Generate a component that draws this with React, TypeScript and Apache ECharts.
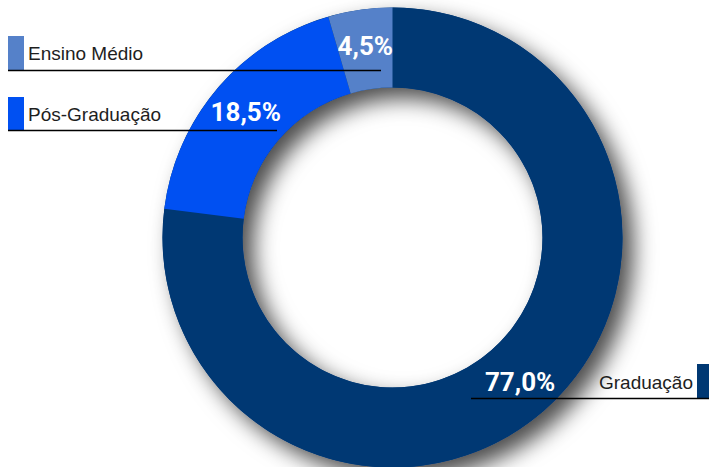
import React, { useEffect, useRef } from "react";
import * as echarts from "echarts";

const categories = ["Graduação", "Pós-Graduação", "Ensino Médio"];
const values = [77.0, 18.5, 4.5];
const colors = ["#003873", "#0050f2", "#5581c9"];

const fmt = (v: number) => v.toFixed(1).replace(".", ",") + "%";

export default function App() {
  const ref = useRef<HTMLDivElement>(null);
  useEffect(() => {
    const chart = echarts.init(ref.current!, null, { renderer: "svg" });
    const center = [392.5, 237.5];
    const radius = [150, 230];
    const legendFont = {
      fontFamily: "Liberation Sans, Arial, sans-serif",
      fontSize: 19,
      fill: "#1e1e1e",
    };
    chart.setOption({
      animation: false,
      backgroundColor: "#ffffff",
      series: [
        {
          type: "pie",
          silent: true,
          center,
          radius,
          label: { show: false },
          labelLine: { show: false },
          itemStyle: {
            color: "#003873",
            shadowBlur: 22,
            shadowOffsetX: 11,
            shadowOffsetY: 11,
            shadowColor: "rgba(0,0,0,0.7)",
          },
          data: [{ value: 1, name: "bg" }],
          z: 1,
        },
        {
          type: "pie",
          center,
          radius,
          startAngle: 90,
          clockwise: true,
          z: 2,
          data: categories.map((c, i) => ({
            name: c,
            value: values[i],
            itemStyle: { color: colors[i] },
          })),
          label: {
            show: true,
            position: "inside",
            formatter: (p: any) => fmt(p.value),
            color: "#ffffff",
            fontSize: 26,
            fontWeight: "bold",
            fontFamily: "Roboto, sans-serif",
          },
          labelLine: { show: false },
        },
      ],
      graphic: [
        { type: "rect", shape: { x: 8, y: 36, width: 16, height: 34 }, style: { fill: colors[2] }, z: 10 },
        { type: "text", x: 28, y: 53, style: { ...legendFont, text: categories[2], verticalAlign: "middle" }, z: 10 },
        { type: "line", shape: { x1: 8, y1: 70.5, x2: 381, y2: 70.5 }, style: { stroke: "#000", lineWidth: 1.3 }, z: 10 },

        { type: "rect", shape: { x: 8, y: 97, width: 16, height: 33 }, style: { fill: colors[1] }, z: 10 },
        { type: "text", x: 28, y: 114, style: { ...legendFont, text: categories[1], verticalAlign: "middle" }, z: 10 },
        { type: "line", shape: { x1: 8, y1: 130.5, x2: 277, y2: 130.5 }, style: { stroke: "#000", lineWidth: 1.3 }, z: 10 },

        { type: "rect", shape: { x: 697, y: 364, width: 12, height: 34 }, style: { fill: colors[0] }, z: 10 },
        { type: "text", x: 693, y: 382, style: { ...legendFont, text: categories[0], align: "right", verticalAlign: "middle" }, z: 10 },
        { type: "line", shape: { x1: 471, y1: 398.5, x2: 709, y2: 398.5 }, style: { stroke: "#000", lineWidth: 1.3 }, z: 10 },
      ],
    });
    return () => chart.dispose();
  }, []);
  return (
    <div
      ref={ref}
      style={{ position: "fixed", left: 0, top: 0, width: 709, height: 467 }}
    />
  );
}
